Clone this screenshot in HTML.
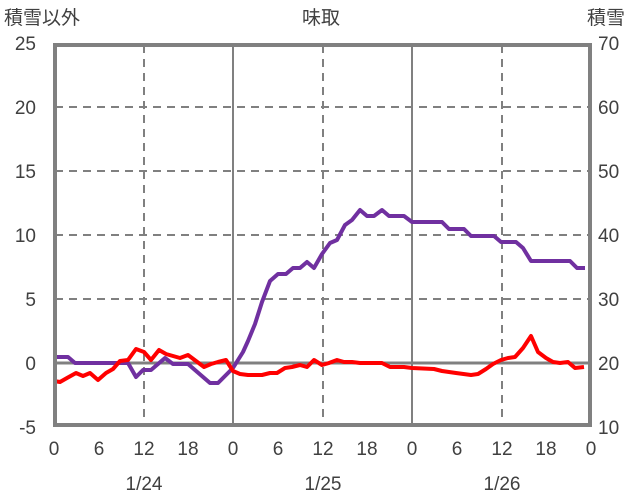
<!DOCTYPE html><html><head><meta charset="utf-8"><style>body{margin:0;background:#fff}svg{display:block;font-family:"Liberation Sans","Noto Sans CJK JP",sans-serif}</style></head><body>
<svg width="636" height="501" viewBox="0 0 636 501">
<g stroke="#808080" stroke-width="2" stroke-dasharray="8,6">
<line x1="55" y1="107" x2="590" y2="107"/><line x1="55" y1="171" x2="590" y2="171"/><line x1="55" y1="235" x2="590" y2="235"/><line x1="55" y1="299" x2="590" y2="299"/>
<line x1="144" y1="45" x2="144" y2="425"/><line x1="323" y1="45" x2="323" y2="425"/><line x1="502" y1="45" x2="502" y2="425"/>
</g>
<g stroke="#808080" stroke-width="2"><line x1="233" y1="45" x2="233" y2="425"/><line x1="412" y1="45" x2="412" y2="425"/></g>
<line x1="55" y1="363" x2="590" y2="363" stroke="#808080" stroke-width="3"/>
<polyline fill="none" stroke="#7030a0" stroke-width="4" stroke-linejoin="round" points="54,357 68,357 75,363 128,363 136,377 143,370 151,370 165,358 173,364 188,364 210,383 218,383 225,376 233,368 243,352 248,341 255,324 262,302 270,281 278,274 286,274 293,268 300,268 307,262 314,268 322,254 330,243 337,240 345,225 352,220 360,210 367,216 374,216 382,210 389,216 397,216 404,216 412,222 420,222 442,222 449,229 464,229 471,236 494,236 501,242 516,242 523,248 531,261 561,261 570,261 577,268 585,268"/>
<polyline fill="none" stroke="#ff0000" stroke-width="4" stroke-linejoin="round" points="54,381 60,382 67,378 76,373 83,376 90,373 98,380 106,373 113,369 120,361 128,360 136,349 144,352 151,360 159,350 166,354 173,356 180,358 188,355 196,361 204,367 211,364 218,362 226,360 233,371 240,374 248,375 262,375 270,373 277,373 285,368 292,367 300,365 307,367 314,360 322,365 329,363 337,360 344,362 352,362 360,363 382,363 390,367 404,367 412,368 434,369 442,371 456,373 471,375 478,374 486,369 493,364 501,360 508,358 515,357 523,348 531,336 538,352 546,358 553,362 560,363 568,362 575,368 584,367"/>
<rect x="55" y="45" width="535" height="380" fill="none" stroke="#808080" stroke-width="4"/>
<g font-size="19" fill="#404040">
<text x="4" y="24">積雪以外</text><text x="302" y="24">味取</text><text x="587" y="24">積雪</text>
<g text-anchor="end"><text x="36" y="50">25</text><text x="36" y="114">20</text><text x="36" y="178">15</text><text x="36" y="242">10</text><text x="36" y="306">5</text><text x="36" y="370">0</text><text x="36" y="434">-5</text></g>
<g><text x="598" y="50">70</text><text x="598" y="114">60</text><text x="598" y="178">50</text><text x="598" y="242">40</text><text x="598" y="306">30</text><text x="598" y="370">20</text><text x="598" y="434">10</text></g>
<g text-anchor="middle"><text x="54" y="455">0</text><text x="99" y="455">6</text><text x="144" y="455">12</text><text x="188" y="455">18</text><text x="233" y="455">0</text><text x="278" y="455">6</text><text x="323" y="455">12</text><text x="367" y="455">18</text><text x="412" y="455">0</text><text x="457" y="455">6</text><text x="502" y="455">12</text><text x="546" y="455">18</text><text x="591" y="455">0</text>
<text x="144" y="490">1/24</text><text x="323" y="490">1/25</text><text x="502" y="490">1/26</text></g>
</g>
</svg></body></html>
